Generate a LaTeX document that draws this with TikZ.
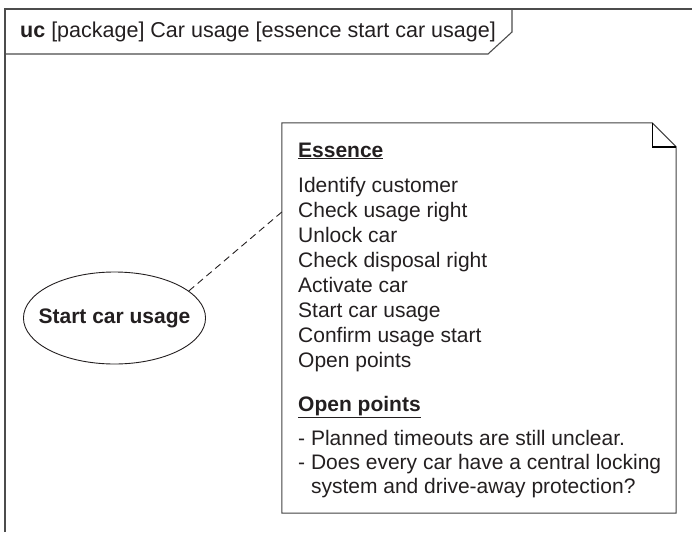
\documentclass[tikz,border=0pt]{standalone}
\usepackage{fontspec}
\setmainfont{Liberation Sans}
\usepackage{tikz}
\usetikzlibrary{shapes.geometric,positioning}
\definecolor{inkgray}{HTML}{231F20}
\tikzset{
  frameline/.style={
    draw=black!70,
    line width=1.1pt
  },
  usecase/.style={
    ellipse,
    draw=inkgray,
    line width=0.9pt,
    minimum height=92pt,
    inner xsep=-11.5pt,
    inner ysep=0pt,
    font=\fontsize{21}{25}\selectfont\bfseries,
    text=inkgray
  },
  notebox/.style={
    rectangle,
    minimum width=394pt,
    minimum height=390pt,
    inner sep=0pt
  },
  noteline/.style={draw=black!75,line width=1pt},
  foldline/.style={draw=black,line width=1.4pt},
  notetext/.style={
    anchor=base west,
    inner sep=0pt,
    font=\fontsize{21}{25}\selectfont,
    text=inkgray
  },
  headtext/.style={notetext,font=\fontsize{21}{25}\selectfont\bfseries},
  assocline/.style={draw=inkgray,line width=0.9pt,dash pattern=on 7pt off 4.5pt}
}

\begin{document}
\begin{tikzpicture}[x=1pt,y=-1pt]
  \useasboundingbox (0,0) rectangle (692,532);
  % package frame with name tab
  \draw[frameline] (5,532) -- (5,9) -- (692,9);
  \draw[frameline] (5,54) -- (488,54) -- (512,32) -- (512,9);
  \node[notetext,font=\fontsize{21.5}{25}\selectfont] (title) at (20,38)
    {\textbf{uc} [package] Car usage [essence start car usage]};
  % use case and its note
  \node[usecase] (start) at (114.5,318) {Start car usage};
  \node[notebox] (note) at (479,318) {};
  \draw[noteline] (note.north west) -- ([xshift=-24pt]note.north east)
    -- ([yshift=-24pt]note.north east) -- (note.south east)
    -- (note.south west) -- cycle;
  \draw[foldline] ([xshift=-24pt]note.north east)
    -- ([xshift=-24pt,yshift=-24pt]note.north east)
    -- ([yshift=-24pt]note.north east);
  \draw[assocline] (start.20) -- ([yshift=106pt]note.west);
  % note contents
  \node[headtext] (essence) at (298,157) {\underline{Essence}};
  \foreach \step [count=\i from 0] in {Identify customer,Check usage right,
      Unlock car,Check disposal right,Activate car,Start car usage,
      Confirm usage start,Open points}
    \node[notetext] (ess\i) at (298,192+25.1*\i) {\step};
  \node[headtext] (openhead) at (298,411) {\underline{Open points}};
  \node[notetext] (open1) at (298,445) {- Planned timeouts are still unclear.};
  \node[notetext] (open2) at (298,469) {- Does every car have a central locking};
  \node[notetext] (open2b) at (310.8,493) {system and drive-away protection?};
\end{tikzpicture}
\end{document}
